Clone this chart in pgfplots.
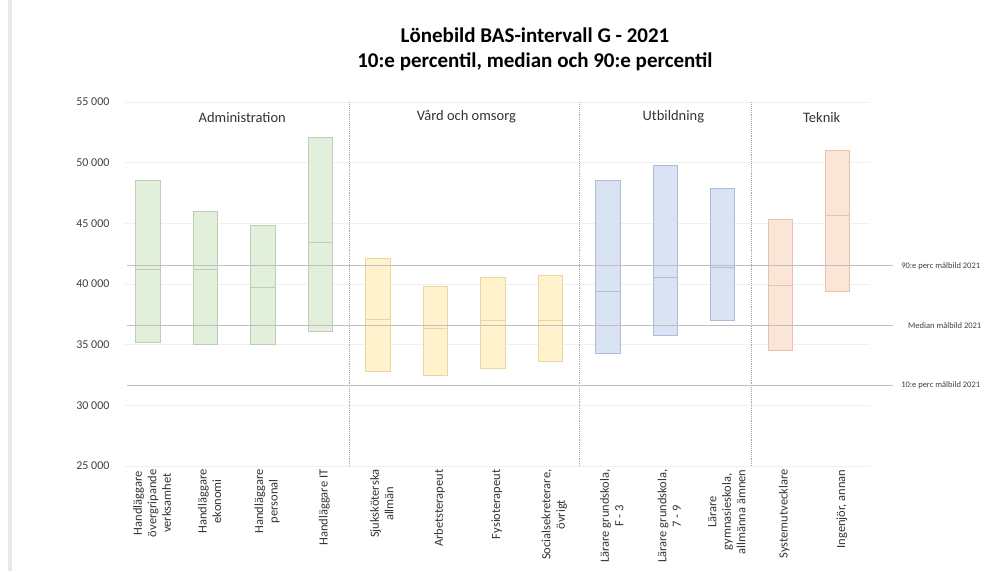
\documentclass[border=0pt]{standalone}
\usepackage{pgfplots}
\usepackage{pgfplotstable}
\pgfplotsset{compat=1.18}
\usepackage{fontspec}
\setmainfont{Carlito}
\definecolor{gfill}{HTML}{E2EFDA}\definecolor{gline}{HTML}{BECDB5}
\definecolor{yfill}{HTML}{FFF2CC}\definecolor{yline}{HTML}{E9D6A0}
\definecolor{bfill}{HTML}{DAE3F3}\definecolor{bline}{HTML}{ADBCD8}
\definecolor{ofill}{HTML}{FBE5D6}\definecolor{oline}{HTML}{E6C2AE}
\definecolor{refl}{HTML}{BFBFBF}
% x = category position, lo = 10th percentile, med = median, hi = 90th percentile
\pgfplotstableread{
x lo med hi
0 35200 41200 48500
1 35000 41200 46000
2 35000 39700 44800
3 36050 43450 52100
}\admin
\pgfplotstableread{
x lo med hi
4 32800 37100 42100
5 32500 36300 39800
6 33050 37000 40500
7 33600 37000 40700
}\vard
\pgfplotstableread{
x lo med hi
8 34250 39400 48500
9 35800 40550 49750
10 37000 41350 47900
}\utb
\pgfplotstableread{
x lo med hi
11 34550 39900 45350
12 39400 45650 51000
}\tek
\pgfplotsset{frame/.style={at={(125pt,105pt)}, anchor=south west,
  width=745pt, height=364pt, scale only axis,
  xmin=-0.4, xmax=12.56, ymin=25000, ymax=55000, clip=false},
  bars/.style={frame, hide axis, ybar stacked, bar width=0.42}}
\newcommand{\grp}[3]{%
\begin{axis}[bars]
\addplot[fill=none, draw=none] table[x=x, y=lo]{#1};
\addplot[fill=#2, draw=#3, line width=0.9pt] table[x=x, y expr=\thisrow{med}-\thisrow{lo}]{#1};
\addplot[fill=#2, draw=#3, line width=0.9pt] table[x=x, y expr=\thisrow{hi}-\thisrow{med}]{#1};
\end{axis}}
\begin{document}
\begin{tikzpicture}
\useasboundingbox (0pt,0pt) rectangle (987pt,571pt);
\fill[black!9] (8pt,0pt) rectangle (12pt,571pt);
\node[font=\bfseries\fontsize{21}{25}\selectfont, align=center] at (535pt,522pt) {Lönebild BAS-intervall G - 2021\\10:e percentil, median och 90:e percentil};
\begin{axis}[frame,
  axis line style={draw=none},
  major tick length=0pt,
  scaled y ticks=false,
  ytick={25000,30000,35000,40000,45000,50000,55000},
  yticklabels={25 000,30 000,35 000,40 000,45 000,50 000,55 000},
  yticklabel style={font=\fontsize{12}{14}\selectfont, text=black!75, xshift=-12pt},
  ymajorgrids, grid style={black!6, line width=0.8pt},
  xtick={0,1,2,3,4,5,6,7,8,9,10,11,12},
  xticklabels={{Handläggare\\övergripande\\verksamhet},{Handläggare\\ekonomi},{Handläggare\\personal},{Handläggare IT},{Sjuksköterska\\allmän},{Arbetsterapeut},{Fysioterapeut},{Socialsekreterare,\\övrigt},{Lärare grundskola,\\F - 3},{Lärare grundskola,\\7 - 9},{Lärare\\gymnasieskola,\\allmänna ämnen},{Systemutvecklare},{Ingenjör, annan}},
  xticklabel style={rotate=90, anchor=east, align=center, font=\fontsize{12.5}{14.5}\selectfont, text=black!80, yshift=-4pt},
]
\addplot[black!35, densely dotted, line width=0.9pt] coordinates {(3.5,25000) (3.5,55000)};
\addplot[black!35, densely dotted, line width=0.9pt] coordinates {(7.5,25000) (7.5,55000)};
\addplot[black!35, densely dotted, line width=0.9pt] coordinates {(10.5,25000) (10.5,55000)};
\node[font=\fontsize{14.5}{17}\selectfont, text=black!80] at (axis cs:1.64,53760) {Administration};
\node[font=\fontsize{14.5}{17}\selectfont, text=black!80] at (axis cs:5.54,53760) {Vård och omsorg};
\node[font=\fontsize{14.5}{17}\selectfont, text=black!80] at (axis cs:9.14,53760) {Utbildning};
\node[font=\fontsize{14.5}{17}\selectfont, text=black!80] at (axis cs:11.72,53760) {Teknik};
\end{axis}
\grp{\admin}{gfill}{gline}
\grp{\vard}{yfill}{yline}
\grp{\utb}{bfill}{bline}
\grp{\tek}{ofill}{oline}
\begin{axis}[frame, hide axis]
\addplot[refl, line width=1pt] coordinates {(-0.36,41500) (12.96,41500)};
\addplot[refl, line width=1pt] coordinates {(-0.36,36550) (12.96,36550)};
\addplot[refl, line width=1pt] coordinates {(-0.36,31650) (12.96,31650)};
\node[anchor=west, font=\fontsize{8.5}{10}\selectfont, text=black!75, inner sep=0pt] at (axis cs:13.1,41500) {90:e perc målbild 2021};
\node[anchor=west, font=\fontsize{8.5}{10}\selectfont, text=black!75, inner sep=0pt] at (axis cs:13.22,36550) {Median målbild 2021};
\node[anchor=west, font=\fontsize{8.5}{10}\selectfont, text=black!75, inner sep=0pt] at (axis cs:13.1,31650) {10:e perc målbild 2021};
\end{axis}
\end{tikzpicture}
\end{document}
